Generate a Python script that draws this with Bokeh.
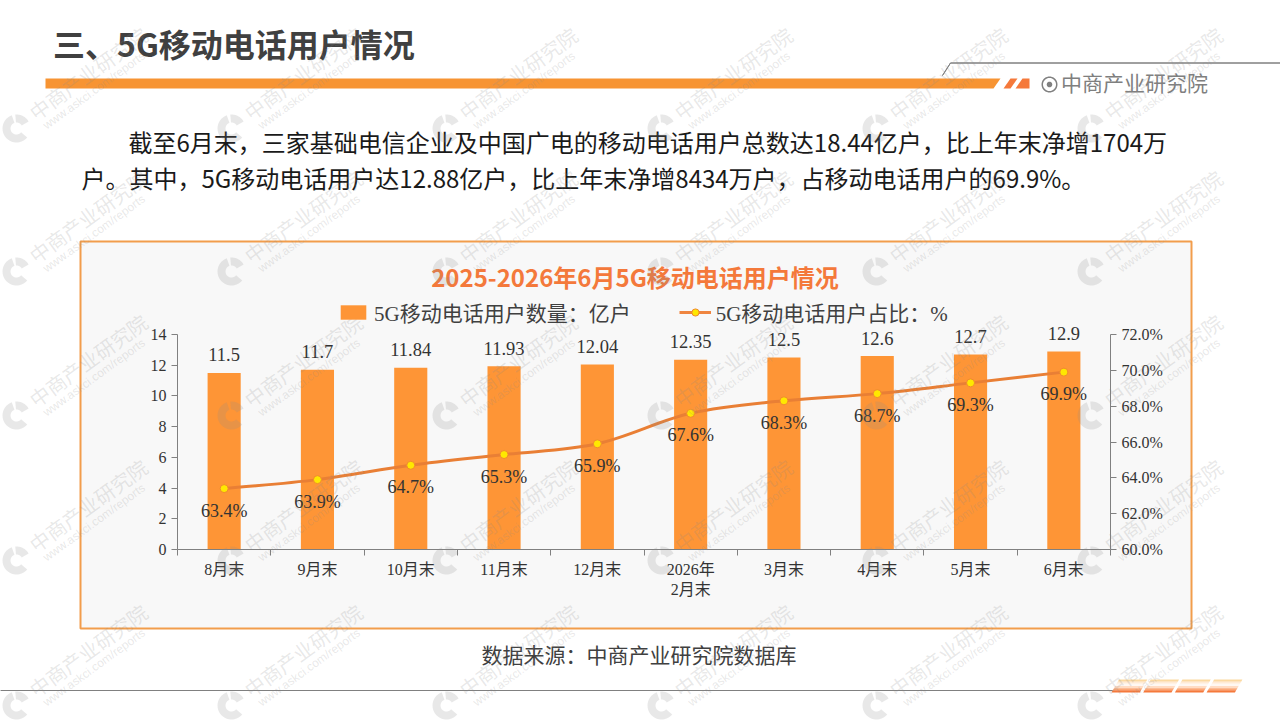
import math
from bokeh.embed import file_html
from bokeh.resources import INLINE
from bokeh.plotting import figure
from bokeh.core.properties import value
from bokeh.models import (ColumnDataSource, Range1d, LinearAxis,
                          FixedTicker, PrintfTickFormatter, Label, LabelSet, BoxAnnotation,
                          PolyAnnotation, Legend, LegendItem)

# ---- data ----
categories = ["8月末", "9月末", "10月末", "11月末", "12月末", "2026年\n2月末", "3月末", "4月末", "5月末", "6月末"]
users = [11.5, 11.7, 11.84, 11.93, 12.04, 12.35, 12.5, 12.6, 12.7, 12.9]
share = [63.4, 63.9, 64.7, 65.3, 65.9, 67.6, 68.3, 68.7, 69.3, 69.9]
left_ticks = [0, 2, 4, 6, 8, 10, 12, 14]
right_ticks = [60, 62, 64, 66, 68, 70, 72]
page_title = "三、5G移动电话用户情况"
body_line1 = "截至6月末，三家基础电信企业及中国广电的移动电话用户总数达18.44亿户，比上年末净增1704万"
body_line2 = "户。其中，5G移动电话用户达12.88亿户，比上年末净增8434万户，占移动电话用户的69.9%。"
chart_title = "2025-2026年6月5G移动电话用户情况"
legend_bar = "5G移动电话用户数量：亿户"
legend_line = "5G移动电话用户占比：%"
source_note = "数据来源：中商产业研究院数据库"
brand = "中商产业研究院"
wm_cn = "中商产业研究院"
wm_en = "www.askci.com/reports"

# ---- layout constants (page pixels) ----
W, H = 1280, 720
FL, FR, FT, FB = 177, 1110, 334, 549   # where the chart's plot area lies on the page
SANS = "Noto Sans CJK SC"
CHART = "Liberation Serif, Noto Sans CJK SC"
BAR_C = "#FE9536"
LINE_C = "#E97F35"
GRID = "#808080"
INK = "#333333"

n = len(categories)
xc = [i + 0.5 for i in range(n)]
boundaries = list(range(n + 1))
y_top, pct_lo, pct_hi = 14, 60, 72


def span_range(lo, hi, p_lo, p_hi, size):
    """Range for a frame that fills the page, such that lo..hi falls on pixels p_lo..p_hi."""
    k = (hi - lo) / (p_hi - p_lo)
    return lo - p_lo * k, lo + (size - p_lo) * k


x0r, x1r = span_range(0, n, FL, FR, W)
y0r, y1r = span_range(0, y_top, H - FB, H - FT, H)
p0r, p1r = span_range(pct_lo, pct_hi, H - FB, H - FT, H)

p = figure(width=W, height=H, output_backend="svg", toolbar_location=None,
           x_range=Range1d(x0r, x1r), y_range=Range1d(y0r, y1r),
           min_border_left=0, min_border_right=0, min_border_top=0, min_border_bottom=0,
           background_fill_color="#FFFFFF", border_fill_color="#FFFFFF",
           outline_line_color=None, x_axis_location=None, y_axis_location=None)
p.grid.visible = False
p.extra_y_ranges = {"pct": Range1d(p0r, p1r)}


def box(l, t, r, b, fill, line=None, lw=0, level="underlay"):
    p.add_layout(BoxAnnotation(left=l, right=r, top=t, bottom=b,
                               left_units="canvas", right_units="canvas", top_units="canvas",
                               bottom_units="canvas", fill_color=fill, fill_alpha=1,
                               line_color=line, line_width=lw, line_alpha=1, level=level))


def poly(xs, ys, fill, line=None, lw=0, alpha=1.0, level="underlay"):
    p.add_layout(PolyAnnotation(xs=list(xs), ys=list(ys),
                                xs_units="canvas", ys_units="canvas",
                                fill_color=fill, fill_alpha=alpha if fill else 0,
                                line_color=line, line_width=lw, line_alpha=1 if line else 0,
                                level=level))


def text(x, y, s, size, color=INK, font=SANS, style="normal", align="left", angle=0, alpha=1.0,
         level="annotation", baseline="middle"):
    p.add_layout(Label(x=x, y=y, x_units="canvas", y_units="canvas", text=s,
                       text_font=font, text_font_size=f"{size}px", text_font_style=style,
                       text_color=color, text_align=align, text_baseline=baseline,
                       text_alpha=alpha, angle=angle, angle_units="deg", level=level))


def arc_pts(cxv, cyv, r0, r1, a0, a1, steps=24):
    outer = [(cxv + r1 * math.cos(math.radians(a0 + (a1 - a0) * i / steps)),
              cyv - r1 * math.sin(math.radians(a0 + (a1 - a0) * i / steps))) for i in range(steps + 1)]
    inner = [(cxv + r0 * math.cos(math.radians(a1 - (a1 - a0) * i / steps)),
              cyv - r0 * math.sin(math.radians(a1 - (a1 - a0) * i / steps))) for i in range(steps + 1)]
    pts = outer + inner
    return [q[0] for q in pts], [q[1] for q in pts]


# ---- panel ----
box(80, 241, 1191, 628, "#F8F8F8", "#F29D4C", 2)

# ---- marks ----
src = ColumnDataSource(dict(x=xc, users=users, share=share,
                            users_txt=[str(v) for v in users],
                            share_txt=[f"{v}%" for v in share]))
bars = p.vbar(x="x", top="users", width=0.355, bottom=0, source=src, fill_color=BAR_C, line_color=None)


# smooth line: one Bezier piece per interval, control points derived from neighbouring values
def tangent(i):
    a, b = max(i - 1, 0), min(i + 1, n - 1)
    return (share[b] - share[a]) / (b - a)


curve = p.bezier(x0=xc[:-1], y0=share[:-1], x1=xc[1:], y1=share[1:],
                 cx0=[x + 0.35 for x in xc[:-1]], cy0=[share[i] + tangent(i) * 0.35 for i in range(n - 1)],
                 cx1=[x - 0.35 for x in xc[1:]], cy1=[share[i + 1] - tangent(i + 1) * 0.35 for i in range(n - 1)],
                 y_range_name="pct", line_color=LINE_C, line_width=3)
# a one-point line draws nothing on the chart; it only supplies the legend's stroke
legend_stroke = p.line(x=xc[:1], y=share[:1], y_range_name="pct", line_color="#EF8540", line_width=3)
dots = p.scatter(x="x", y="share", source=src, y_range_name="pct", size=8,
                 fill_color="#FFE800", line_color="#F0892F", line_width=1)

p.add_layout(LabelSet(x="x", y="users", text="users_txt", source=src, x_offset=0, y_offset=18,
                      text_font=value(CHART), text_font_size="18.5px", text_color=INK,
                      text_align="center", text_baseline="middle"))
p.add_layout(LabelSet(x="x", y="share", text="share_txt", source=src, y_range_name="pct", y_offset=-22,
                      text_font=value(CHART), text_font_size="18px", text_color=INK,
                      text_align="center", text_baseline="middle"))

# ---- axes ----
tick_axis = LinearAxis(ticker=FixedTicker(ticks=boundaries), fixed_location=0, bounds=(0, n),
                       major_label_text_font_size="0px", major_label_text_color=None,
                       major_label_standoff=0, minor_tick_line_color=None,
                       axis_line_color=GRID, major_tick_line_color=GRID,
                       major_tick_in=0, major_tick_out=6)
p.add_layout(tick_axis, "below")
cat_axis = LinearAxis(ticker=FixedTicker(ticks=xc), fixed_location=0, bounds=(0, n),
                      major_label_overrides={x: c for x, c in zip(xc, categories)},
                      major_tick_line_color=None, minor_tick_line_color=None, axis_line_color=None,
                      major_tick_in=0, major_tick_out=0,
                      major_label_text_font=CHART, major_label_text_font_size="16px",
                      major_label_text_color=INK, major_label_standoff=11)
p.add_layout(cat_axis, "below")
ly = LinearAxis(ticker=FixedTicker(ticks=left_ticks), fixed_location=0, bounds=(0, y_top),
                minor_tick_line_color=None,
                axis_line_color=GRID, major_tick_line_color=GRID, major_tick_in=0, major_tick_out=6,
                major_label_text_font=CHART, major_label_text_font_size="16px",
                major_label_text_color=INK, major_label_standoff=5)
p.add_layout(ly, "left")
ry = LinearAxis(y_range_name="pct", ticker=FixedTicker(ticks=right_ticks), fixed_location=n,
                bounds=(pct_lo, pct_hi), minor_tick_line_color=None,
                formatter=PrintfTickFormatter(format="%.1f%%"),
                axis_line_color=GRID, major_tick_line_color=GRID, major_tick_in=0, major_tick_out=6,
                major_label_text_font=CHART, major_label_text_font_size="16px",
                major_label_text_color=INK, major_label_standoff=5)
p.add_layout(ry, "right")

# ---- legend ----
legend = Legend(items=[LegendItem(label=value(legend_bar), renderers=[bars]),
                       LegendItem(label=value(legend_line), renderers=[legend_stroke, dots])],
                orientation="horizontal", location=(337, H - 327),
                glyph_width=32, glyph_height=18, label_standoff=5, spacing=48,
                padding=0, margin=0, background_fill_alpha=0, border_line_color=None,
                label_text_font=CHART, label_text_font_size="21px", label_text_color="#404040")
p.add_layout(legend, "center")

# ---- header ----
text(52.5, 42, page_title, 32, "#404040", style="bold")
poly([45, 1000, 993, 45], [78, 78, 88, 88], "#F79433")
poly([1010, 1017, 1010, 1003], [78, 78, 88, 88], "#F5793B")
poly([1022, 1029, 1029, 1015], [78, 78, 88, 88], "#F5793B")
poly([942, 950, 1280, 950], [75, 62.5, 62.5, 62.5], None, "#808080", 1)
xs, ys = arc_pts(1049, 84, 6.5, 8, 0, 360, 40)
poly(xs, ys, "#808080")
xs, ys = arc_pts(1049, 84, 0, 2.8, 0, 360, 20)
poly(xs, ys, "#808080")
text(1060.5, 81, brand, 21, "#7F7F7F")
text(128, 140.5, body_line1, 24, "#1A1A1A")
text(81, 176.5, body_line2, 24, "#1A1A1A")

# ---- chart title, note ----
text(634.5, 276, chart_title, 24, "#F4793B", style="bold", align="center")
text(638.5, 655, source_note, 21, "#404040", font=CHART, align="center")

# ---- footer ----
poly([0, 1112, 0], [690, 690, 690], None, "#808080", 1)
bands = ["#FBD9A0", "#FFEBD6", "#FFF8F2", "#FFDCC4", "#FBA878", "#F5793B"]
for k in range(4):
    x0 = 1111 + k * 31.7
    for j, c in enumerate(bands):
        t0, t1 = j / len(bands), (j + 1) / len(bands)
        y0, y1 = 679 + 13 * t0, 679 + 13 * t1
        poly([x0 + 7.5 * (1 - t0), x0 + 28.3 + 7.5 * (1 - t0), x0 + 28.3 + 7.5 * (1 - t1), x0 + 7.5 * (1 - t1)],
             [y0, y0, y1, y1], c)

# ---- watermark ----
WM = "#8A8A8A"
for row_y in [128, 271, 415, 560, 705]:
    for col_x in [14, 229, 444, 659, 874, 1089]:
        xs, ys = arc_pts(col_x + 2, row_y, 6, 14, 110, 320)
        poly(xs, ys, WM, alpha=0.2, level="overlay")
        xs, ys = arc_pts(col_x + 2, row_y, 6, 14, 30, 95)
        poly(xs, ys, WM, alpha=0.2, level="overlay")
        text(col_x + 17, row_y - 14, wm_cn, 20, WM, angle=36, alpha=0.2, level="overlay",
             baseline="alphabetic")
        text(col_x + 30, row_y - 2, wm_en, 12, WM, angle=36, alpha=0.2, level="overlay",
             baseline="alphabetic", font="Liberation Sans")

open("out.html", "w").write(file_html(p, INLINE))
